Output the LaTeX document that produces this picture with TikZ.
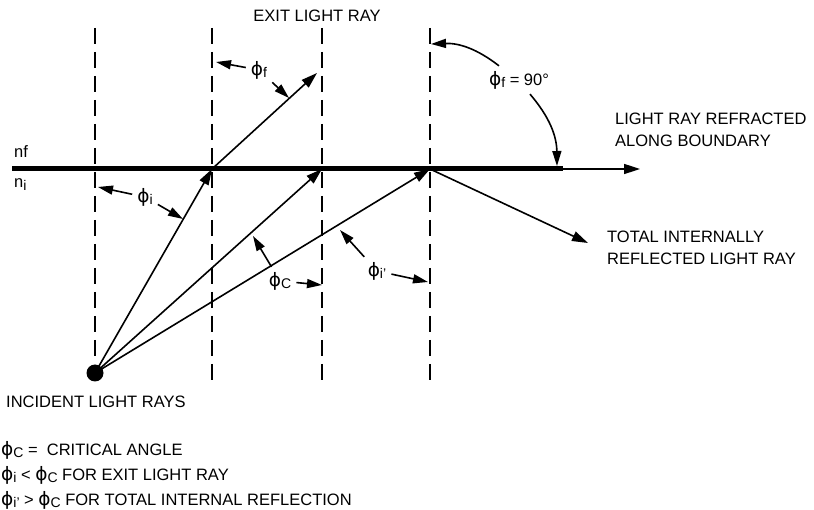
\documentclass[tikz,border=0pt]{standalone}
\usepackage{fontspec}
\setmainfont{Liberation Sans}
\newfontfamily\greekfont{DejaVu Sans}
\usetikzlibrary{arrows.meta,positioning}
\newcommand{\ph}{{\greekfont\fontsize{18.5}{22}\selectfont ϕ}}
\newcommand{\lo}[1]{\raisebox{-0.3ex}{\fontsize{14}{14}\selectfont #1}}

\begin{document}
\begin{tikzpicture}[
    x=1pt, y=-1pt,
    every node/.style={font=\fontsize{16.5}{22}\selectfont, inner sep=0pt},
    guide/.style={line width=1.8pt, dash pattern=on 16pt off 8pt},
    ray/.style={line width=1.6pt, -{Triangle[length=16pt,width=10pt]}},
    pointer/.style={line width=1.6pt, -{Triangle[length=15pt,width=9pt]}},
    boundary/.style={line width=5pt},
    lbl/.style={inner sep=5pt}
  ]
  \useasboundingbox (0,0) rectangle (814,510);

  % normals
  \foreach \x/\yb in {95/358, 212/382, 322/382, 430/382}
    \draw[guide] (\x,28) -- (\x,\yb);

  % boundary between the two media
  \coordinate (bl) at (12,169);
  \coordinate (h1) at (212,169);
  \coordinate (h2) at (322,169);
  \coordinate (h3) at (430,169);
  \coordinate (br) at (563,169);
  \coordinate (far) at (640,169);
  \draw[boundary] (bl) -- (br);
  \draw[ray] (br) -- (far);

  % source and rays
  \node[circle, fill, minimum size=17pt] (src) at (95,373) {};
  \foreach \h in {h1,h2,h3}
    \draw[ray] (src.center) -- (\h);
  \coordinate (ex) at (317,73);
  \coordinate (rf) at (588,243);
  \draw[ray] (h1) -- (ex);
  \draw[ray] (h3) -- (rf);

  % media
  \node[anchor=base west] (nf) at (14,158) {nf};
  \node[anchor=base west] (ni) at (14,188) {n\lo{i}};

  % captions
  \node[anchor=base] (exit) at (317,22) {EXIT LIGHT RAY};
  \node[anchor=base west] (refr) at (615,125) {LIGHT RAY REFRACTED};
  \node[anchor=base west] (along) at (615,147) {ALONG BOUNDARY};
  \node[anchor=base west] (tir) at (607,243) {TOTAL INTERNALLY};
  \node[anchor=base west] (tir2) at (607,265) {REFLECTED LIGHT RAY};
  \node[anchor=base west] (incid) at (6,407) {INCIDENT LIGHT RAYS};

  % angles
  \node[lbl] (phf) at (259,70) {\ph\lo{f}};
  \coordinate (phf a) at (216,62);
  \coordinate (phf b) at (289,98);
  \draw[pointer] (phf) -- (phf a);
  \draw[pointer] (phf) -- (phf b);

  \node[lbl] (phi) at (145,197) {\ph\lo{i}};
  \coordinate (phi a) at (98,187);
  \coordinate (phi b) at (183,219);
  \draw[pointer] (phi) -- (phi a);
  \draw[pointer] (phi) -- (phi b);

  \node[lbl] (phc) at (280,281) {\ph\lo{C}};
  \coordinate (phc a) at (253,236);
  \coordinate (phc b) at (322,285);
  \draw[pointer] (phc) -- (phc a);
  \draw[pointer] (phc) -- (phc b);

  \node[lbl] (phip) at (377,271) {\ph\lo{i{\char"27}}};
  \coordinate (phip a) at (340,230);
  \coordinate (phip b) at (428,282);
  \draw[pointer] (phip) -- (phip a);
  \draw[pointer] (phip) -- (phip b);

  \node[lbl] (ph90) at (519,80) {\ph\lo{f} = 90°};
  \coordinate (ph90 a) at (431,44);
  \coordinate (ph90 b) at (557,166);
  \draw[pointer] ([xshift=-20pt]ph90.north) to[bend right=20] (ph90 a);
  \draw[pointer] ([xshift=11pt]ph90.south) to[bend left=20] (ph90 b);

  % key
  \node[anchor=base west] (key1) at (1,455) {\ph\lo{C} =\ \ CRITICAL ANGLE};
  \node[anchor=base west] (key2) at (1,480) {\ph\lo{i} < \ph\lo{C} FOR EXIT LIGHT RAY};
  \node[anchor=base west] (key3) at (1,505) {\ph\lo{i{\char"27}} > \ph\lo{C} FOR TOTAL INTERNAL REFLECTION};
\end{tikzpicture}
\end{document}
